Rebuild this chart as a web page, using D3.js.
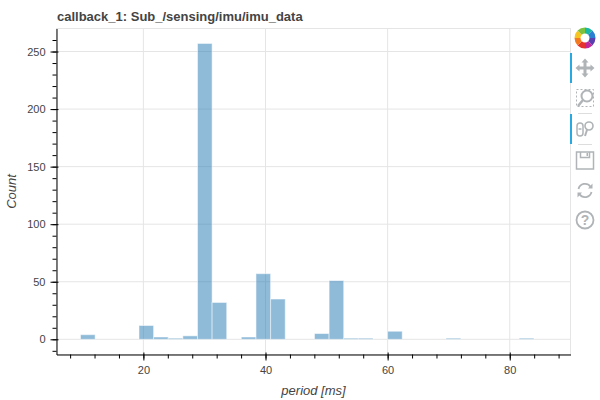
<!DOCTYPE html>
<html><head><meta charset="utf-8">
<script src="https://cdn.jsdelivr.net/npm/d3@7"></script>
<style>html,body{margin:0;padding:0;background:#fff}svg{display:block}</style></head>
<body><svg id="c" width="600" height="400"></svg>
<script>
const titleText = "callback_1: Sub_/sensing/imu/imu_data";
const xLabel = "period [ms]";
const yLabel = "Count";
const binEdgeStart = 9.7;
const binWidth = 2.395;
const counts = [4,0,0,0,12,2,1,3,257,32,0,2,57,35,0,0,5,51,1,1,0,7,0,0,0,1,0,0,0,0,1,0];
const xTicks = [20,40,60,80];
const yTicks = [0,50,100,150,200,250];
const xDomain = [5.77,89.95];
const yDomain = [-13.2,270];
const pL=56.5,pR=570.5,pT=28.5,pB=354.5;
const svg=d3.select("#c");
const x=d3.scaleLinear().domain(xDomain).range([pL,pR]);
const y=d3.scaleLinear().domain(yDomain).range([pB,pT]);
const grid="#e5e5e5",txt="#444";
const g=svg.append("g");
g.append("rect").attr("x",pL).attr("y",pT).attr("width",pR-pL).attr("height",pB-pT).attr("fill","none").attr("stroke",grid);
g.selectAll("line.gx").data(xTicks).join("line").attr("class","gx").attr("x1",d=>x(d)).attr("x2",d=>x(d)).attr("y1",pT).attr("y2",pB).attr("stroke",grid);
g.selectAll("line.gy").data(yTicks).join("line").attr("class","gy").attr("x1",pL).attr("x2",pR).attr("y1",d=>y(d)).attr("y2",d=>y(d)).attr("stroke",grid);
svg.append("g").selectAll("rect").data(counts.map((c,i)=>({c,i}))).join("rect")
 .attr("x",d=>x(binEdgeStart+d.i*binWidth)).attr("width",d=>x(binWidth)-x(0))
 .attr("y",d=>y(d.c)).attr("height",d=>y(0)-y(d.c))
 .attr("fill","#1f77b4").attr("fill-opacity",.5).attr("stroke","#fff").attr("stroke-opacity",.5);
const xa=d3.axisBottom(x).tickValues(d3.range(8,90,4)).tickSize(4).tickSizeOuter(0).tickFormat(d=>"");
svg.append("g").attr("transform",`translate(0,${pB})`).call(xa);
const xM=svg.append("g").attr("transform",`translate(0,${pB})`).call(d3.axisBottom(x).tickValues(xTicks).tickSize(6).tickSizeOuter(0).tickPadding(6));
xM.select(".domain").remove();
xM.selectAll(".tick line").attr("y1",-2);
const ya=d3.axisLeft(y).tickValues(d3.range(-10,270,10)).tickSize(4).tickSizeOuter(0).tickFormat(d=>"");
svg.append("g").attr("transform",`translate(${pL},0)`).call(ya);
const yM=svg.append("g").attr("transform",`translate(${pL},0)`).call(d3.axisLeft(y).tickValues(yTicks).tickSize(6).tickSizeOuter(0).tickPadding(5));
yM.select(".domain").remove();
yM.selectAll(".tick line").attr("x1",2);
svg.selectAll(".tick text").attr("fill",txt).style("font","11px 'Liberation Sans',Arial,sans-serif");
svg.append("text").attr("x",57).attr("y",21).text(titleText).attr("fill",txt).style("font","bold 13px 'Liberation Sans',Arial,sans-serif");
svg.append("text").attr("x",(pL+pR)/2).attr("y",395).attr("text-anchor","middle").text(xLabel).attr("fill",txt).style("font","italic 13px 'Liberation Sans',Arial,sans-serif");
svg.append("text").attr("transform",`translate(16,${(pT+pB)/2}) rotate(-90)`).attr("text-anchor","middle").text(yLabel).attr("fill",txt).style("font","italic 13px 'Liberation Sans',Arial,sans-serif");
// toolbar
const tb=svg.append("g");
tb.selectAll("rect.act").data([53,114]).join("rect").attr("class","act").attr("x",570).attr("y",d=>d).attr("width",2).attr("height",30).attr("fill","#26aae1");
const ic="#b0b4b6";
const logoCols=["#19b7a5","#2b7fd0","#5a3fb0","#c0279a","#e5322d","#f47a20","#f7c520","#7cc23f"];
const lg=tb.append("g").attr("transform","translate(585,38)");
lg.selectAll("path").data(d3.pie().value(1).sort(null)(logoCols)).join("path").attr("d",d3.arc().innerRadius(4.5).outerRadius(10.5)).attr("fill",d=>d.data);
const p=tb.append("g").attr("transform","translate(585,68)").attr("fill",ic);
p.append("path").attr("d","M0-9.5L3.5-5.5H1.5V-1.5H5.5V-3.5L9.5,0L5.5,3.5V1.5H1.5V5.5H3.5L0,9.5L-3.5,5.5H-1.5V1.5H-5.5V3.5L-9.5,0L-5.5,-3.5V-1.5H-1.5V-5.5H-3.5Z");
const b=tb.append("g").attr("transform","translate(585,98)").attr("fill","none").attr("stroke",ic);
b.append("rect").attr("x",-8.5).attr("y",-8.5).attr("width",17).attr("height",17).attr("stroke-dasharray","2 2");
b.append("circle").attr("cx",2).attr("cy",-2).attr("r",5.5).attr("stroke-width",2).attr("fill","#fff");
b.append("line").attr("x1",-2).attr("y1",2).attr("x2",-7).attr("y2",8).attr("stroke-width",2.5);
tb.append("line").attr("x1",578).attr("x2",592).attr("y1",113.5).attr("y2",113.5).attr("stroke","#ddd");
const w=tb.append("g").attr("transform","translate(585,129)").attr("fill","none").attr("stroke",ic);
w.append("rect").attr("x",-8).attr("y",-6).attr("width",6).attr("height",13).attr("rx",3).attr("stroke-width",1.5);
w.append("line").attr("x1",-6.5).attr("x2",-3.5).attr("y1",0).attr("y2",0).attr("stroke-width",1.5);
w.append("circle").attr("cx",4).attr("cy",-3).attr("r",4).attr("stroke-width",1.6);
w.append("line").attr("x1",2).attr("y1",1).attr("x2",0).attr("y2",7).attr("stroke-width",2);
tb.append("line").attr("x1",578).attr("x2",592).attr("y1",144.5).attr("y2",144.5).attr("stroke","#ddd");
const s=tb.append("g").attr("transform","translate(585,160.5)").attr("fill","none").attr("stroke",ic);
s.append("rect").attr("x",-8.5).attr("y",-8.5).attr("width",17).attr("height",17).attr("stroke-width",1.5);
s.append("path").attr("d","M-4.5-8.5V-3H4.5V-8.5").attr("stroke-width",1.5);
s.append("rect").attr("x",1.5).attr("y",-7.5).attr("width",1.5).attr("height",3).attr("fill",ic).attr("stroke","none");
const r=tb.append("g").attr("transform","translate(585,190.5)").attr("fill","none").attr("stroke",ic).attr("stroke-width",1.8);
r.append("path").attr("d","M-6.5-1.5A6.7 6.7 0 0 1 5.5-3.8");
r.append("path").attr("d","M6.5 1.5A6.7 6.7 0 0 1 -5.5 3.8");
r.append("path").attr("d","M7.5-7V-2H3Z").attr("fill",ic).attr("stroke","none");
r.append("path").attr("d","M-7.5 7V2H-3Z").attr("fill",ic).attr("stroke","none");
const h=tb.append("g").attr("transform","translate(585,220)");
h.append("circle").attr("r",8.5).attr("fill","none").attr("stroke",ic).attr("stroke-width",1.8);
h.append("text").attr("text-anchor","middle").attr("y",5).text("?").attr("fill",ic).style("font","bold 14px 'Liberation Sans',Arial,sans-serif");
</script></body></html>
